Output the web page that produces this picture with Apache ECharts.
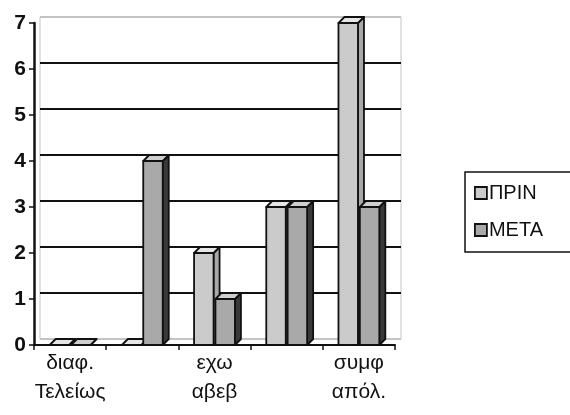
<!DOCTYPE html>
<html>
<head>
<meta charset="utf-8">
<script src="https://cdn.jsdelivr.net/npm/echarts@6/dist/echarts.min.js"></script>
<style>
  html, body { margin: 0; padding: 0; background: #fff; }
  #chart { width: 570px; height: 415px; }
</style>
</head>
<body>
<div id="chart"></div>
<script>
// Survey answers before and after, per agreement level
const categories = ['διαφ.\nΤελείως', 'διαφ.', 'εχω\nαβεβ', 'συμφ.', 'συμφ\nαπόλ.'];
const seriesNames = ['ΠΡΙΝ', 'ΜΕΤΑ'];
const beforeValues = [0, 0, 2, 3, 7];
const afterValues = [0, 4, 1, 3, 3];
const yMin = 0, yMax = 7, yStep = 1;

// 3D column look: front, side and top faces
const DEPTH_X = 6, DEPTH_Y = 6;
const faceColors = [
  { front: '#cbcbcb', side: '#a9a9a9', top: '#e6e6e6' },
  { front: '#a9a9a9', side: '#3a3a3a', top: '#cfcfcf' }
];

function makeRender(slot) {
  return function (params, api) {
    const cat = api.value(0);
    const val = api.value(1);
    const base = api.coord([cat, 0]);
    const top = api.coord([cat, val]);
    const band = api.size([1, 0])[0];
    const w = band * 0.27;
    const x0 = base[0] + band * 0.148 * slot - w / 2;
    const x1 = x0 + w;
    const yb = base[1], yt = top[1];
    const c = faceColors[slot < 0 ? 0 : 1];
    const stroke = { stroke: '#111', lineWidth: 1.8, lineJoin: 'round' };
    return {
      type: 'group',
      children: [
        { type: 'polygon', shape: { points: [[x1, yt], [x1 + DEPTH_X, yt - DEPTH_Y], [x1 + DEPTH_X, yb - DEPTH_Y], [x1, yb]] },
          style: Object.assign({ fill: c.side }, stroke) },
        { type: 'polygon', shape: { points: [[x0, yt], [x0 + DEPTH_X, yt - DEPTH_Y], [x1 + DEPTH_X, yt - DEPTH_Y], [x1, yt]] },
          style: Object.assign({ fill: c.top }, stroke) },
        { type: 'rect', shape: { x: x0, y: yt, width: w, height: yb - yt },
          style: Object.assign({ fill: c.front }, stroke) }
      ]
    };
  };
}

const chart = echarts.init(document.getElementById('chart'), null, { renderer: 'canvas' });
const font = 'Liberation Sans, Arial, sans-serif';

chart.setOption({
  animation: false,
  backgroundColor: '#fff',
  legend: {
    orient: 'vertical',
    left: 465, top: 172,
    padding: [11, 28, 12, 9],
    itemGap: 17,
    itemWidth: 12, itemHeight: 12,
    borderColor: '#111', borderWidth: 1.5,
    textStyle: { fontFamily: font, fontSize: 20, color: '#111', padding: [0, 0, 0, -3] },
    itemStyle: { borderColor: '#111', borderWidth: 1.8 },
    data: seriesNames.map((n, i) => ({ name: n, icon: 'rect', itemStyle: { color: faceColors[i].front } }))
  },
  grid: [
    // back wall
    { left: 40, right: 169, top: 17, bottom: 76, show: true, borderColor: '#c4c4c4', borderWidth: 1 },
    // front plane
    { left: 34, right: 175, top: 23, bottom: 70 }
  ],
  xAxis: [
    { gridIndex: 0, type: 'category', data: categories, show: false },
    { gridIndex: 1, type: 'category', data: categories,
      axisLine: { lineStyle: { color: '#111', width: 2 } },
      axisTick: { show: true, interval: 0, length: 5, lineStyle: { color: '#111', width: 1.5 } },
      axisLabel: { interval: 1, margin: 4, fontFamily: font, fontSize: 21, color: '#111', lineHeight: 29 },
      splitLine: { show: false } }
  ],
  yAxis: [
    { gridIndex: 0, type: 'value', min: yMin, max: yMax, interval: yStep,
      axisLine: { show: false }, axisTick: { show: false }, axisLabel: { show: false },
      splitLine: { show: true, lineStyle: { color: ['#c4c4c4', '#111', '#111', '#111', '#111', '#111', '#111', '#c4c4c4'], width: 1.8 } } },
    { gridIndex: 1, type: 'value', min: yMin, max: yMax, interval: yStep,
      axisLine: { show: true, lineStyle: { color: '#111', width: 2.5 } },
      axisTick: { show: true, length: 5, lineStyle: { color: '#111', width: 1.5 } },
      axisLabel: { margin: 8, fontFamily: font, fontSize: 21, fontWeight: 'bold', color: '#111' },
      splitLine: { show: false } }
  ],
  series: [
    { name: seriesNames[0], type: 'custom', xAxisIndex: 1, yAxisIndex: 1,
      itemStyle: { color: faceColors[0].front },
      renderItem: makeRender(-1),
      data: beforeValues.map((v, i) => [i, v]) },
    { name: seriesNames[1], type: 'custom', xAxisIndex: 1, yAxisIndex: 1,
      itemStyle: { color: faceColors[1].front },
      renderItem: makeRender(1),
      data: afterValues.map((v, i) => [i, v]) }
  ]
});
</script>
</body>
</html>
